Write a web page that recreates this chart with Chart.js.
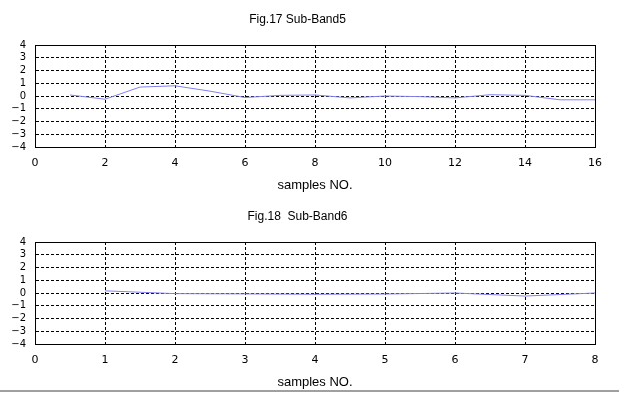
<!DOCTYPE html>
<html>
<head>
<meta charset="utf-8">
<script src="https://cdn.jsdelivr.net/npm/chart.js@4/dist/chart.umd.min.js"></script>
<style>
  html, body { margin: 0; padding: 0; background: #fff; }
  body { width: 619px; height: 394px; position: relative; overflow: hidden; }
  .box { position: absolute; left: 0; width: 619px; height: 197px; }
  #sep { position: absolute; left: 0; top: 390px; width: 619px; height: 2px; background: #a0a0a0; }
</style>
</head>
<body>
<div class="box" style="top:0"><canvas id="c1" width="619" height="197"></canvas></div>
<div class="box" style="top:197px"><canvas id="c2" width="619" height="197"></canvas></div>
<div id="sep"></div>
<script>
// ---- data ----
const title5 = "Fig.17 Sub-Band5";
const title6 = "Fig.18  Sub-Band6";
const xLabel = "samples NO.";
const samples5 = [1, 2, 3, 4, 5, 6, 7, 8, 9, 10, 11, 12, 13, 14, 15, 16];
const band5 = [0.08, -0.25, 0.7, 0.8, 0.38, -0.12, 0.05, 0.08, -0.15, 0.0, -0.05, -0.15, 0.1, 0.05, -0.3, -0.3];
const samples6 = [1, 2, 3, 4, 5, 6, 7, 8];
const band6 = [0.17, -0.05, -0.07, -0.1, -0.08, 0.0, -0.24, 0.0];
const yMin = -4, yMax = 4, yStep = 1;

const frame = {
  id: 'frame',
  afterDraw(chart) {
    const a = chart.chartArea, ctx = chart.ctx;
    ctx.save();
    ctx.strokeStyle = '#000';
    ctx.lineWidth = 1;
    ctx.setLineDash([]);
    ctx.strokeRect(Math.round(a.left) + 0.5, Math.round(a.top) + 0.5,
                   Math.round(a.right - a.left), Math.round(a.bottom - a.top));
    ctx.restore();
  }
};

function makeChart(id, title, xs, ys, xMax, xStep) {
  return new Chart(document.getElementById(id), {
    type: 'line',
    data: {
      datasets: [{
        data: xs.map((x, i) => ({ x: x, y: ys[i] })),
        borderColor: '#8080f0',
        borderWidth: 1,
        pointRadius: 0,
        tension: 0,
        fill: false
      }]
    },
    options: {
      responsive: false,
      animation: false,
      layout: { padding: { left: 0, right: 24, top: 0, bottom: 0 } },
      plugins: {
        legend: { display: false },
        tooltip: { enabled: false },
        title: {
          display: true,
          text: title,
          color: '#000',
          font: { family: 'Liberation Sans', size: 12, weight: 'normal', lineHeight: 1.2 },
          padding: { top: 12, bottom: 18.6 }
        }
      },
      scales: {
        x: {
          type: 'linear',
          min: 0, max: xMax,
          ticks: {
            stepSize: xStep,
            autoSkip: false,
            color: '#000',
            padding: 10,
            maxRotation: 0,
            font: { family: 'DejaVu Sans', size: 11 }
          },
          grid: { color: '#000', lineWidth: 1, drawTicks: false },
          border: { display: true, color: '#000', width: 1, dash: [3, 2] },
          title: {
            display: true,
            text: xLabel,
            color: '#000',
            font: { family: 'Liberation Sans', size: 13, lineHeight: 1.2 },
            padding: { top: 0, bottom: 4.2 }
          },
          afterFit(s) { s.height = 50; }
        },
        y: {
          type: 'linear',
          min: yMin, max: yMax,
          ticks: {
            stepSize: yStep,
            autoSkip: false,
            color: '#000',
            padding: 9,
            font: { family: 'DejaVu Sans', size: 10, lineHeight: 1 },
            callback: v => v < 0 ? '\u2212' + Math.abs(v) : String(v)
          },
          grid: { color: '#000', lineWidth: 1, drawTicks: false },
          border: { display: true, color: '#000', width: 1, dash: [3, 2] },
          afterFit(s) { s.width = 35; }
        }
      }
    },
    plugins: [frame]
  });
}

makeChart('c1', title5, samples5, band5, 16, 2);
makeChart('c2', title6, samples6, band6, 8, 1);
</script>
</body>
</html>
